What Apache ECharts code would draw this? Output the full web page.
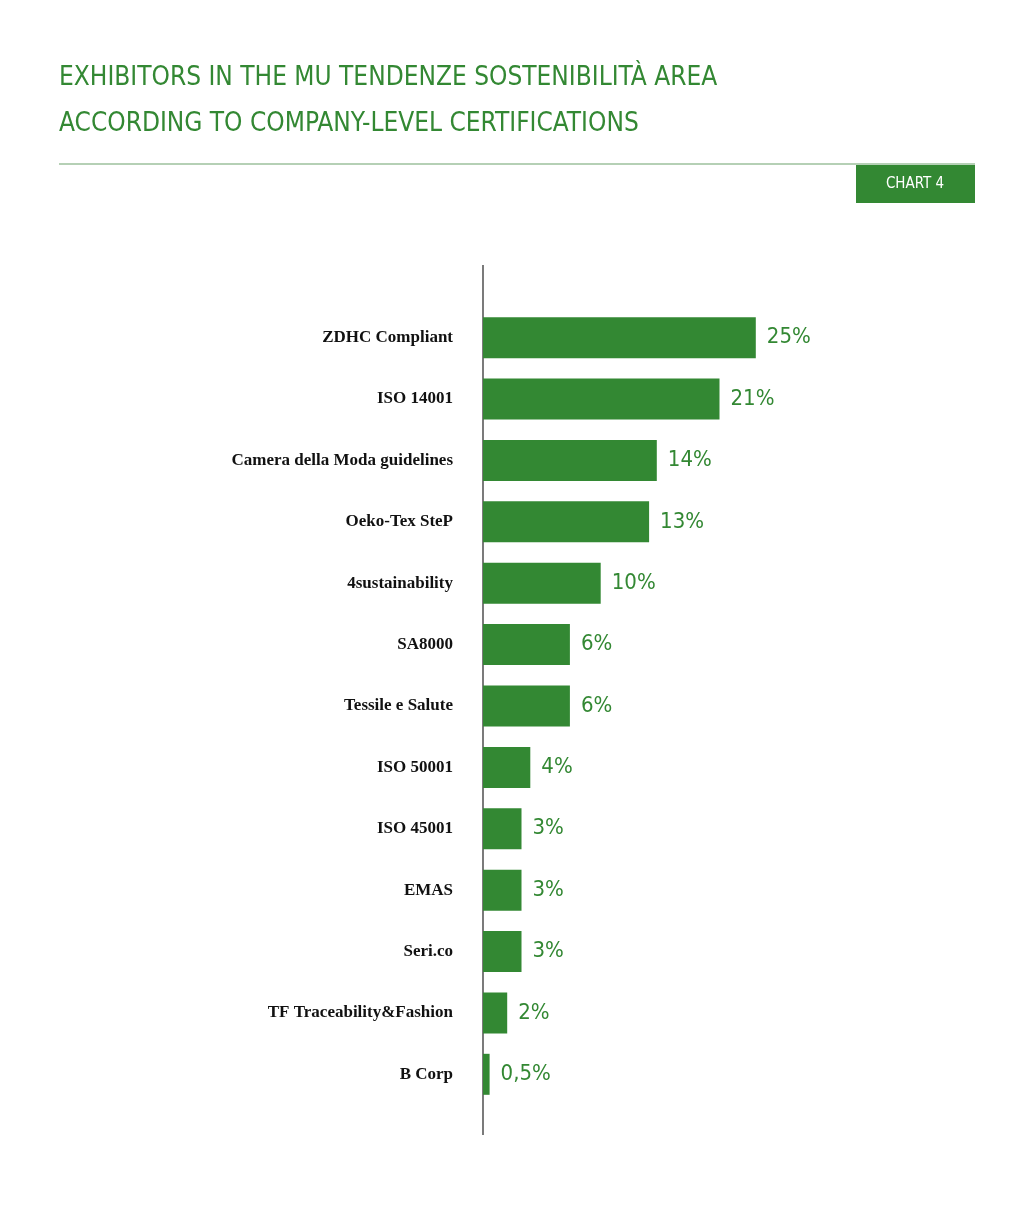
<!DOCTYPE html>
<html><head><meta charset="utf-8">
<script src="https://cdn.jsdelivr.net/npm/echarts@6/dist/echarts.min.js"></script>
<style>body{margin:0;background:#fff}#c{width:1033px;height:1211px}</style>
</head><body><div id="c"></div>
<script>
const categories = ["ZDHC Compliant","ISO 14001","Camera della Moda guidelines","Oeko-Tex SteP","4sustainability","SA8000","Tessile e Salute","ISO 50001","ISO 45001","EMAS","Seri.co","TF Traceability&Fashion","B Corp"];
const values = [24.8,21.5,15.8,15.1,10.7,7.9,7.9,4.3,3.5,3.5,3.5,2.2,0.6];
const valueLabels = ["25%","21%","14%","13%","10%","6%","6%","4%","3%","3%","3%","2%","0,5%"];
const green = "#338833";
const cond = "'DejaVu Sans Condensed','Liberation Sans Narrow',sans-serif";
const chart = echarts.init(document.getElementById('c'));
chart.setOption({
  animation:false,
  graphic:[
    {type:'text',left:59,top:55,style:{text:'EXHIBITORS IN THE MU TENDENZE SOSTENIBILITÀ AREA\nACCORDING TO COMPANY-LEVEL CERTIFICATIONS',font:"26px "+cond,fill:green,lineHeight:46}},
    {type:'line',shape:{x1:59,y1:164,x2:975,y2:164},style:{stroke:'#9cc09c',lineWidth:1.5}},
    {type:'rect',shape:{x:856,y:165,width:119,height:38},style:{fill:green}},
    {type:'text',x:915,y:184,style:{text:'CHART 4',font:"15px "+cond,fill:'#fff',align:'center',verticalAlign:'middle'}},
    {type:'line',shape:{x1:483,y1:265,x2:483,y2:1135},style:{stroke:'#222',lineWidth:1.2}}
  ],
  grid:{left:483,top:307,width:550,height:798},
  xAxis:{type:'value',min:0,max:50,show:false},
  yAxis:{type:'category',data:categories,inverse:true,axisLine:{show:false},axisTick:{show:false},
    axisLabel:{margin:30,fontFamily:'Liberation Serif',fontWeight:'bold',fontSize:17,color:'#111'}},
  series:[{type:'bar',data:values,barWidth:41,itemStyle:{color:green},
    label:{show:true,position:'right',distance:11,formatter:p=>valueLabels[p.dataIndex],
      fontFamily:cond,fontSize:22,color:green}}]
});
</script></body></html>
